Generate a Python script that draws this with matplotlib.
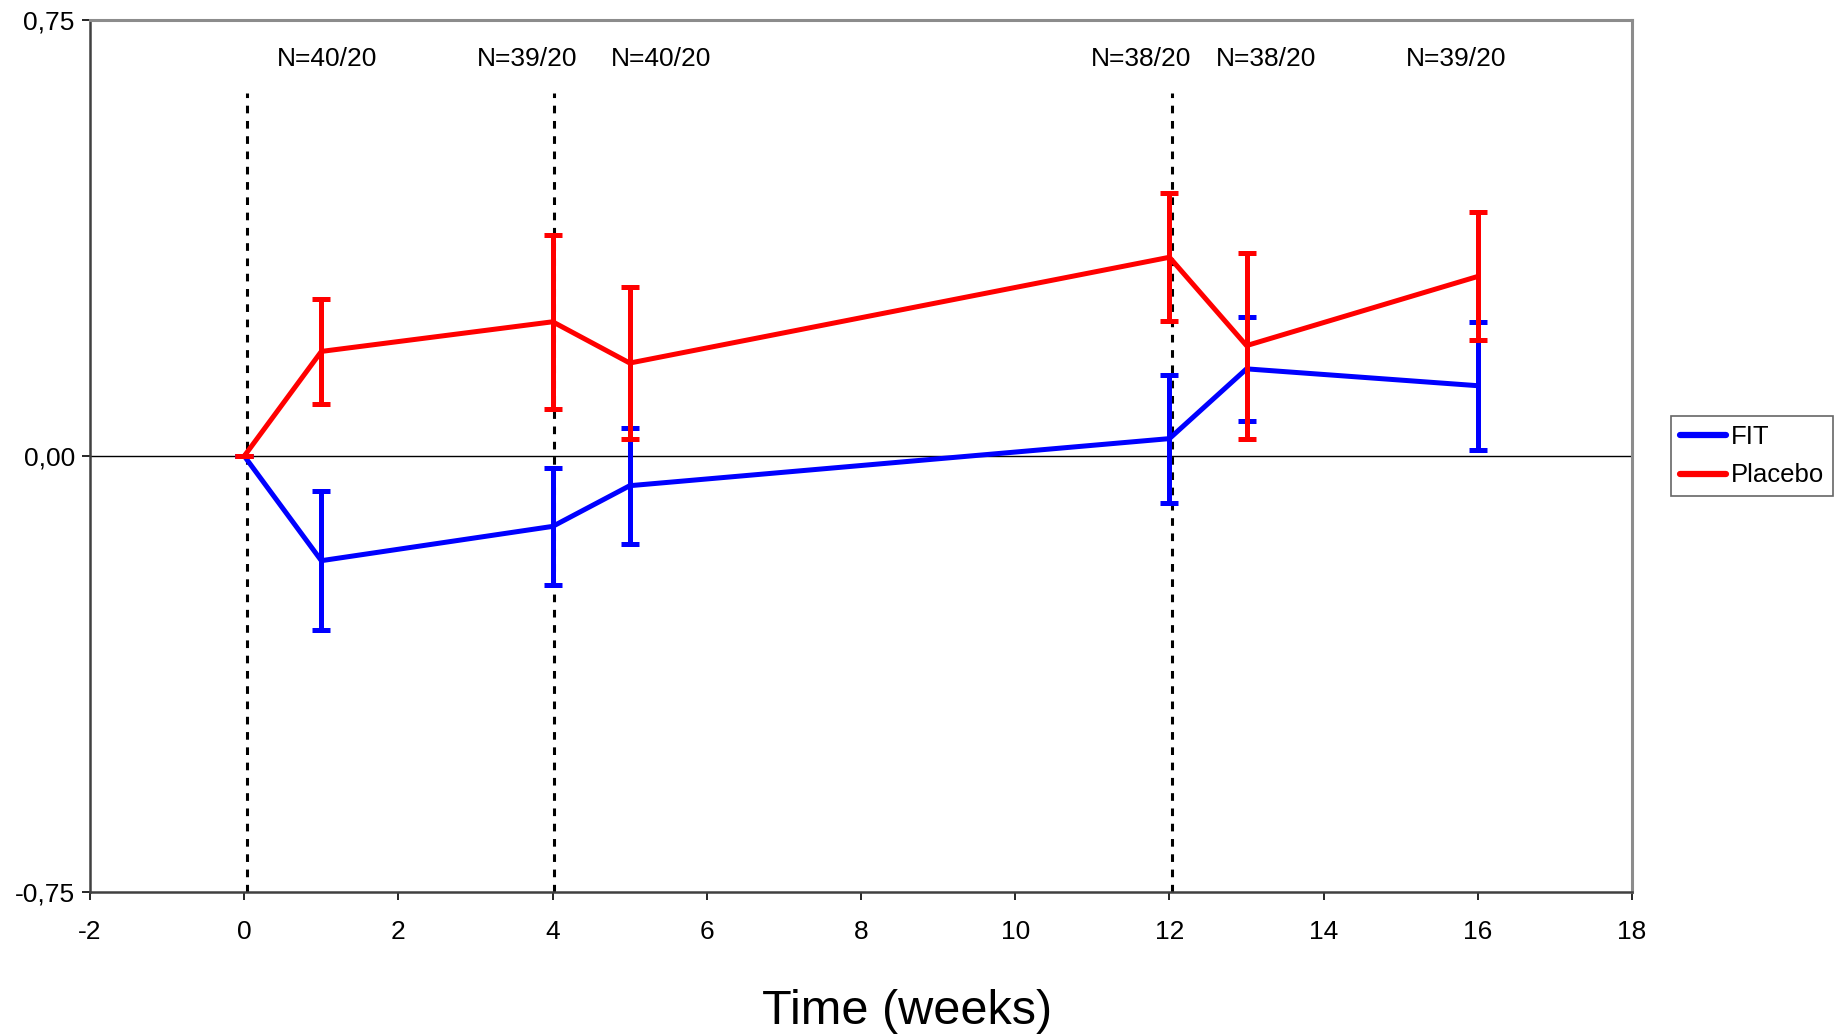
import matplotlib
matplotlib.use('Agg')
import matplotlib.pyplot as plt
from matplotlib.lines import Line2D

plt.rcParams['font.family'] = ['Liberation Sans', 'DejaVu Sans']
plt.rcParams['axes.unicode_minus'] = False

# weeks
weeks = [0, 1, 4, 5, 12, 13, 16]

# change from baseline
fit_mean = [0.0, -0.18, -0.121, -0.051, 0.030, 0.150, 0.121]
fit_err = [0.0, 0.12, 0.10, 0.10, 0.11, 0.09, 0.11]
placebo_mean = [0.0, 0.180, 0.231, 0.160, 0.342, 0.190, 0.309]
placebo_err = [0.0, 0.09, 0.15, 0.13, 0.11, 0.16, 0.11]

# visit markers and sample sizes
visit_lines = [0.04, 4.02, 12.03]
n_labels = ["N=40/20", "N=39/20", "N=40/20", "N=38/20", "N=38/20", "N=39/20"]
n_label_x = [1.07, 3.67, 5.41, 11.63, 13.25, 15.72]

xticks = [-2, 0, 2, 4, 6, 8, 10, 12, 14, 16, 18]
yticks = [-0.75, 0.0, 0.75]
ytick_labels = ["-0,75", "0,00", "0,75"]

fig = plt.figure(figsize=(18.42, 10.36), dpi=100)
ax = fig.add_axes([0.0489, 0.139, 0.8371, 0.8416])

ax.axhline(0, color='black', lw=1.0, zorder=1)
for xv in visit_lines:
    ax.plot([xv, xv], [-0.75, 0.625], color='black', lw=2.2,
            ls=(0, (2.5, 2.5)), zorder=2)

ax.errorbar(weeks, fit_mean, yerr=fit_err, color='#0000ff', lw=3.6,
            elinewidth=3.6, capsize=6.5, capthick=3.6, zorder=3)
ax.errorbar(weeks, placebo_mean, yerr=placebo_err, color='#ff0000', lw=3.6,
            elinewidth=3.6, capsize=6.5, capthick=3.6, zorder=4)

for lab, xv in zip(n_labels, n_label_x):
    ax.text(xv, 0.683, lab, ha='center', va='center', fontsize=19)

ax.set_xlim(-2, 18)
ax.set_ylim(-0.75, 0.75)
ax.set_xticks(xticks)
ax.set_yticks(yticks)
ax.set_yticklabels(ytick_labels)
ax.tick_params(labelsize=19, length=6, width=1.2, direction='out')
ax.tick_params(axis='x', pad=14)
ax.tick_params(axis='y', pad=5)

for s in ['left', 'bottom']:
    ax.spines[s].set_color('#404040')
    ax.spines[s].set_linewidth(1.8)
for s in ['top', 'right']:
    ax.spines[s].set_color('#8c8c8c')
    ax.spines[s].set_linewidth(2.2)

fig.text(772 / 1568, 1 - 861 / 882, 'Time (weeks)', ha='center', va='center',
         fontsize=35)

handles = [Line2D([], [], color='#0000ff', lw=4.5, solid_capstyle='round'),
           Line2D([], [], color='#ff0000', lw=4.5, solid_capstyle='round')]
leg = ax.legend(handles, ['FIT', 'Placebo'], loc='center left',
                bbox_to_anchor=(1.025, 0.5), fontsize=18.5,
                frameon=True, fancybox=False, edgecolor='#404040',
                handlelength=1.8, handletextpad=0.2, borderpad=0.35,
                labelspacing=0.58, borderaxespad=0)
leg.get_frame().set_linewidth(1.2)

fig.savefig('out.png', dpi=100)
